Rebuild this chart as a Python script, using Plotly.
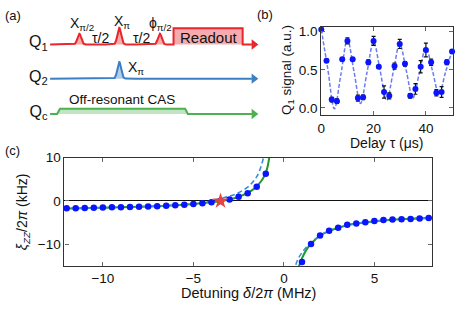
import numpy as np
import plotly.graph_objects as go

# ---------------- Panel (b): Ramsey-like oscillation ----------------
delay_us = [0, 2, 4, 6, 8, 10, 12, 14, 16, 18, 20, 22, 24, 26, 28, 30, 32, 34, 36, 38, 40, 42, 44, 46, 48, 50]
q1_signal = [1.03, 0.62, 0.11, 0.09, 0.64, 0.88, 0.64, 0.13, 0.14, 0.60, 0.88, 0.54, 0.21, 0.16,
             0.55, 0.84, 0.58, 0.16, 0.25, 0.54, 0.76, 0.60, 0.20, 0.21, 0.60, 0.74]
q1_err = [0.02, 0.02, 0.03, 0.03, 0.02, 0.04, 0.02, 0.04, 0.03, 0.03, 0.06, 0.02, 0.08, 0.04,
          0.04, 0.06, 0.03, 0.03, 0.07, 0.08, 0.09, 0.04, 0.04, 0.07, 0.03, 0.02]
fit_delay = [0, 2.5, 5, 7.5, 10, 12.5, 15, 17.5, 20, 22.5, 25, 27.5, 30, 32.5, 35, 37.5, 40, 42.5, 45, 47.5, 50]
fit_signal = [1.03, 0.51, -0.01, 0.44, 0.90, 0.48, 0.06, 0.47, 0.87, 0.49, 0.10, 0.47, 0.84, 0.49,
              0.13, 0.46, 0.79, 0.49, 0.18, 0.47, 0.75]

# ---------------- Panel (c): ZZ vs detuning ----------------
det_left = [-12, -11.5, -11, -10.5, -10, -9.5, -9, -8.5, -8, -7.5, -7, -6.5, -6, -5.5, -5, -4.5, -4,
            -3.5, -3, -2.5, -2, -1.5, -1]
zz_left = [-1.7, -1.65, -1.6, -1.55, -1.5, -1.45, -1.42, -1.38, -1.32, -1.27, -1.2, -1.1, -1.0, -0.88,
           -0.7, -0.5, -0.3, 0.0, 0.35, 1.0, 1.8, 3.3, 6.3]
det_right = [1, 1.5, 2, 2.5, 3, 3.5, 4, 4.5, 5, 5.5, 6, 6.5, 7, 7.5, 8]
zz_right = [-14.06, -9.93, -7.97, -6.84, -6.17, -5.49, -5.19, -4.9, -4.59, -4.36, -4.29, -4.21,
            -4.13, -4.06, -3.91]
star_det = [-3.5]
star_zz = [0.0]

green_left_x = [-12.2, -11, -10, -9, -8, -7, -6, -5, -4.5, -4, -3.5, -3, -2.5, -2, -1.75, -1.5, -1.25,
                -1.1, -1.0, -0.9, -0.8, -0.74]
green_left_y = [-1.75, -1.65, -1.55, -1.45, -1.35, -1.2, -1.0, -0.7, -0.5, -0.28, 0.0, 0.35, 0.95,
                1.85, 2.5, 3.35, 4.6, 5.6, 6.5, 7.9, 10.2, 12.0]
green_right_x = [0.8, 0.84, 1.0, 1.25, 1.5, 1.75, 2, 2.5, 3, 3.5, 4, 5, 6, 7, 8.3]
green_right_y = [-16.0, -15.0, -13.2, -11.2, -9.9, -8.8, -8.0, -6.9, -6.15, -5.6, -5.2, -4.65, -4.3,
                 -4.08, -3.88]
dash_left_x = [-12.2, -10, -8, -6, -5, -4.5, -4, -3.5, -3, -2.5, -2, -1.75, -1.5, -1.35, -1.2, -1.1, -1.05]
dash_left_y = [-1.75, -1.55, -1.33, -0.95, -0.6, -0.35, 0.0, 0.6, 1.1, 1.9, 3.2, 4.2, 5.6, 6.9, 8.8,
               10.5, 12.0]
dash_right_x = [0.6, 0.64, 0.8, 1.0, 1.25, 1.5, 2, 2.5, 3, 4, 5, 6, 7, 8.3]
dash_right_y = [-16.5, -15.0, -13.2, -11.9, -10.6, -9.6, -7.95, -6.85, -6.15, -5.2, -4.65, -4.3, -4.08,
                -3.88]

# ---------------- Panel (a): pulse schematic (pixel units) ----------------
chan_labels = ["Q<sub>1</sub>", "Q<sub>2</sub>", "Q<sub>c</sub>"]
chan_colors = ["#e8262b", "#3b7fc4", "#4cb24f"]
chan_fills = ["rgba(232,38,43,0.38)", "rgba(59,127,196,0.38)", "rgba(76,178,79,0.35)"]
chan_base = [38.3, 73.3, 109.5]
line_x0, line_x1, arrow_x = 46.5, 250.0, 252.0
q1_pulse_x = [76.0, 116.3, 157.2]
q1_pulse_h = [11.0, 17.0, 11.0]
q2_pulse_x = [116.3]
q2_pulse_h = [17.0]
pulse_sigma = 1.9
readout_span = [171.0, 240.7]
readout_h = 16.6
cas_span = [53.5, 56.5, 182.7, 185.5]
cas_h = 5.5

FONT = "Liberation Sans, Arial, sans-serif"
fig = go.Figure()


def pulse_path(base, centers, heights):
    xs = np.arange(line_x0, line_x1 + 0.001, 0.25)
    ys = np.full_like(xs, base)
    for c, h in zip(centers, heights):
        ys = ys - h * np.exp(-(xs - c) ** 2 / (2 * pulse_sigma ** 2))
    return list(xs), list(ys)


# Q1 with readout block
x1, y1 = pulse_path(chan_base[0], q1_pulse_x, q1_pulse_h)
xa = [x for x in x1 if x < readout_span[0]]
ya = y1[:len(xa)]
q1x = xa + [readout_span[0], readout_span[0], readout_span[1], readout_span[1], line_x1]
q1y = ya + [chan_base[0], chan_base[0] - readout_h, chan_base[0] - readout_h, chan_base[0], chan_base[0]]
x2, y2 = pulse_path(chan_base[1], q2_pulse_x, q2_pulse_h)
qcx = [line_x0, cas_span[0], cas_span[1], cas_span[2], cas_span[3], line_x1]
qcy = [chan_base[2], chan_base[2], chan_base[2] - cas_h, chan_base[2] - cas_h, chan_base[2], chan_base[2]]

for (px, py), col, fcol in zip([(q1x, q1y), (x2, y2), (qcx, qcy)], chan_colors, chan_fills):
    fig.add_trace(go.Scatter(x=px, y=py, mode="lines", fill="toself", fillcolor=fcol,
                             line=dict(width=0, color=fcol), xaxis="x3", yaxis="y3",
                             showlegend=False, hoverinfo="skip"))
    fig.add_trace(go.Scatter(x=px, y=py, mode="lines", line=dict(width=2, color=col),
                             xaxis="x3", yaxis="y3", showlegend=False, hoverinfo="skip"))
for b, col in zip(chan_base, chan_colors):
    fig.add_trace(go.Scatter(x=[arrow_x], y=[b], mode="markers",
                             marker=dict(symbol="triangle-right", size=9, color=col),
                             xaxis="x3", yaxis="y3", showlegend=False, hoverinfo="skip",
                             cliponaxis=False))
# channel labels as text marks
fig.add_trace(go.Scatter(x=[44, 44, 44], y=[b - 1 for b in chan_base], mode="text",
                         text=chan_labels, textposition="middle left",
                         textfont=dict(family=FONT, size=16, color="#111"),
                         xaxis="x3", yaxis="y3", showlegend=False, hoverinfo="skip", cliponaxis=False))

# ---------------- Panel (b) traces ----------------
fig.add_trace(go.Scatter(x=fit_delay, y=fit_signal, mode="lines", line_shape="spline",
                         line=dict(color="#6a7cf0", width=1.5, dash="4px,2px"),
                         xaxis="x2", yaxis="y2", showlegend=False))
fig.add_trace(go.Scatter(x=delay_us, y=q1_signal, mode="markers",
                         marker=dict(color="#0a14ff", size=6),
                         error_y=dict(type="data", array=q1_err, color="#111", thickness=1.2, width=2),
                         xaxis="x2", yaxis="y2", showlegend=False, cliponaxis=False))

# ---------------- Panel (c) traces ----------------
for gx, gy in [(green_left_x, green_left_y), (green_right_x, green_right_y)]:
    fig.add_trace(go.Scatter(x=gx, y=gy, mode="lines", line_shape="spline",
                             line=dict(color="#1f9a25", width=2), showlegend=False))
for dx, dy in [(dash_left_x, dash_left_y), (dash_right_x, dash_right_y)]:
    fig.add_trace(go.Scatter(x=dx, y=dy, mode="lines", line_shape="spline",
                             line=dict(color="#3a8ed8", width=1.6, dash="5px,3px"), showlegend=False))
fig.add_trace(go.Scatter(x=det_left + det_right, y=zz_left + zz_right, mode="markers",
                         marker=dict(color="#0a14ff", size=6.5), showlegend=False, cliponaxis=False))
fig.add_trace(go.Scatter(x=star_det, y=star_zz, mode="markers",
                         marker=dict(symbol="star", color="#e5453c", size=12), showlegend=False))

W, H = 469, 315
axis_common = dict(showgrid=False, showline=True, linecolor="#333", linewidth=1.2, mirror="ticks",
                   ticks="inside", ticklen=4, tickcolor="#666",
                   tickfont=dict(family=FONT, size=13.5, color="#111"))

fig.update_layout(
    width=W, height=H, margin=dict(l=0, r=0, t=0, b=0),
    paper_bgcolor="white", plot_bgcolor="rgba(0,0,0,0)",
    font=dict(family=FONT, size=14, color="#111"),
    xaxis=dict(domain=[61 / W, 432 / W], range=[-12.12, 8.2], tickvals=[-10, -5, 0, 5],
               zeroline=False, anchor="y", **axis_common),
    yaxis=dict(domain=[1 - 265 / H, 1 - 154 / H], range=[-15, 10], tickvals=[-10, 0, 10],
               zeroline=True, zerolinecolor="#111", zerolinewidth=1, anchor="x",
               title=dict(text="<i>ξ<sub>ZZ</sub></i>/2<i>π</i> (kHz)", standoff=6,
                          font=dict(family=FONT, size=14, color="#111")),
               **axis_common),
    xaxis2=dict(domain=[320 / W, 452.7 / W], range=[0, 50.3], tickvals=[0, 20, 40],
                zeroline=False, anchor="y2", **axis_common),
    yaxis2=dict(domain=[1 - 110.7 / H, 1 - 20 / H], range=[-0.095, 1.068], tickvals=[0, 0.5, 1.0],
                tickformat=".1f", zeroline=False, anchor="x2", **axis_common),
    xaxis3=dict(domain=[0, 1], range=[0, W], visible=False, fixedrange=True, anchor="y3"),
    yaxis3=dict(domain=[0, 1], range=[H, 0], visible=False, fixedrange=True, anchor="x3"),
)

ann = []


def txt(x, y, s, size=14, angle=0, xanchor="center"):
    ann.append(dict(x=x, y=y, xref="x3", yref="y3", text=s, showarrow=False, textangle=angle,
                    xanchor=xanchor, yanchor="middle", font=dict(family=FONT, size=size, color="#111")))


# panel letters
txt(9, 9, "(a)", 13)
txt(263, 8, "(b)", 13)
txt(9, 147, "(c)", 13)
# schematic labels
txt(79, 17, "X<sub>π/2</sub>", 14)
txt(97, 31.5, "τ/2", 14)
txt(119, 15, "X<sub>π</sub>", 14)
txt(139, 31.5, "τ/2", 14)
txt(158, 17, "ϕ<sub>π/2</sub>", 14)
txt(207, 31, "Readout", 15)
txt(133, 62, "X<sub>π</sub>", 14)
txt(119, 95, "Off-resonant CAS", 13.5)
# axis titles
txt(386, 139, "Delay τ (μs)", 14)
txt(286, 65, "Q<sub>1</sub> signal (a.u.)", 13.5, angle=-90)
txt(247, 292, "Detuning <i>δ</i>/2<i>π</i> (MHz)", 14.5)
fig.update_layout(annotations=ann)

fig.write_html("out.html", config={"displayModeBar": False},
               post_script="document.body.style.margin='0';")
